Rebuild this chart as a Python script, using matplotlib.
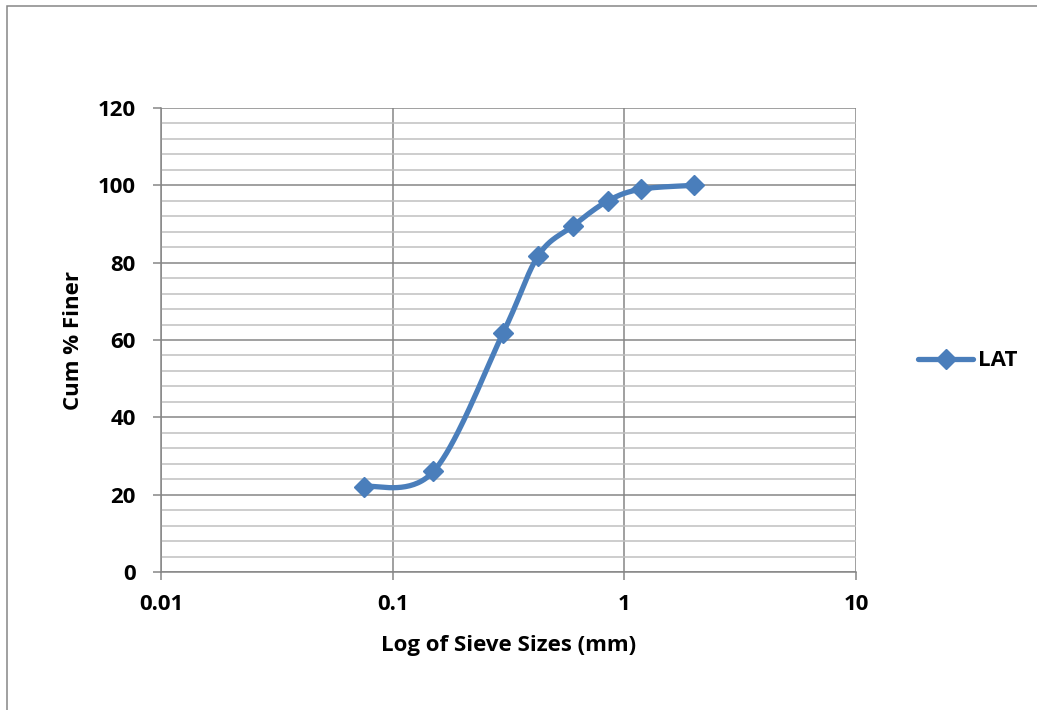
import numpy as np
import matplotlib
matplotlib.use("Agg")
import matplotlib.pyplot as plt
from matplotlib.patches import Rectangle
from matplotlib.lines import Line2D
from matplotlib.ticker import FixedLocator, NullLocator, FuncFormatter

plt.rcParams['font.family'] = ['Open Sans', 'DejaVu Sans']
plt.rcParams['font.weight'] = 'bold'

# Sieve analysis data
sieve_sizes_mm = [0.075, 0.15, 0.3, 0.425, 0.6, 0.85, 1.18, 2.0]
cum_pct_finer = [22.1, 26.0, 61.9, 81.8, 89.5, 96.0, 99.0, 100.0]
series_name = "LAT"
x_ticks = [0.01, 0.1, 1, 10]
x_tick_labels = ["0.01", "0.1", "1", "10"]
y_ticks = [0, 20, 40, 60, 80, 100, 120]

BLUE = "#4A7EBB"
GRID_MAJOR = "#868686"
GRID_MINOR = "#C0C0C0"
FS = 16


def smooth_curve(xs, ys, n=40):
    """Bezier smoothing through points (Catmull-Rom style control points)."""
    p = np.column_stack([xs, ys]).astype(float)
    m = len(p)
    out = []
    for i in range(m - 1):
        p0 = p[i - 1] if i > 0 else p[i]
        p1 = p[i]
        p2 = p[i + 1]
        p3 = p[i + 2] if i + 2 < m else p[i + 1]
        c1 = p1 + (p2 - p0) / 6.0
        c2 = p2 - (p3 - p1) / 6.0
        t = np.linspace(0, 1, n)[:, None]
        seg = ((1 - t) ** 3) * p1 + 3 * ((1 - t) ** 2) * t * c1 + 3 * (1 - t) * t ** 2 * c2 + t ** 3 * p2
        if i > 0:
            seg = seg[1:]
        out.append(seg)
    out = np.vstack(out)
    return out[:, 0], out[:, 1]


fig = plt.figure(figsize=(10.37, 7.10), dpi=100)
fig.patch.set_facecolor("white")

# outer chart border
fig.patches.append(Rectangle((7 / 1037, -0.2), 1.5, 0.2 + (1 - 6 / 710),
                             transform=fig.transFigure, fill=False,
                             edgecolor=GRID_MAJOR, linewidth=1.1))

ax = fig.add_axes([161 / 1037, 1 - 572 / 710, (856 - 161) / 1037, (572 - 108) / 710])
ax.set_xscale("log")
ax.set_xlim(0.01, 10)
ax.set_ylim(0, 120)

# gridlines
ax.xaxis.set_major_locator(FixedLocator(x_ticks))
ax.xaxis.set_minor_locator(NullLocator())
ax.xaxis.set_major_formatter(FuncFormatter(lambda v, pos: x_tick_labels[x_ticks.index(v)] if v in x_ticks else ""))
ax.yaxis.set_major_locator(FixedLocator(y_ticks))
ax.yaxis.set_minor_locator(FixedLocator(np.arange(0, 121, 4)))
ax.grid(True, which="major", axis="both", color=GRID_MAJOR, linewidth=1.1, zorder=0)
ax.grid(True, which="minor", axis="y", color=GRID_MINOR, linewidth=1.1, zorder=0)
ax.set_axisbelow(True)

for side in ["top", "right"]:
    ax.spines[side].set_visible(False)
for side in ["left", "bottom"]:
    ax.spines[side].set_color(GRID_MAJOR)
    ax.spines[side].set_linewidth(1.1)

ax.tick_params(axis="both", which="major", direction="out", length=6, width=1.1,
               color=GRID_MAJOR, labelsize=FS, labelcolor="black")
ax.tick_params(axis="y", which="minor", length=0)
ax.tick_params(axis="y", which="major", pad=12)
ax.tick_params(axis="x", which="major", pad=10)
for lbl in ax.get_xticklabels() + ax.get_yticklabels():
    lbl.set_fontweight("bold")

# smoothed curve in log-x space
lx, sy = smooth_curve(np.log10(sieve_sizes_mm), cum_pct_finer)
ax.plot(10 ** lx, sy, color=BLUE, linewidth=3.8, solid_capstyle="round", zorder=3)
ax.plot(sieve_sizes_mm, cum_pct_finer, linestyle="none", marker="D",
        markersize=10, color=BLUE, zorder=4)

ax.set_xlabel("Log of Sieve Sizes (mm)", fontsize=FS, fontweight="bold", labelpad=14)
ax.set_ylabel("Cum % Finer", fontsize=FS, fontweight="bold", labelpad=10)

handle = Line2D([], [], color=BLUE, linewidth=3.8, marker="D", markersize=10,
                solid_capstyle="round")
ax.legend([handle], [series_name], loc="center left", bbox_to_anchor=(1.089, 0.455),
          frameon=False, borderpad=0, borderaxespad=0, handlelength=2.5,
          handletextpad=0.2, prop={"size": FS, "weight": "bold"})

fig.savefig("out.png", dpi=100, facecolor="white")
